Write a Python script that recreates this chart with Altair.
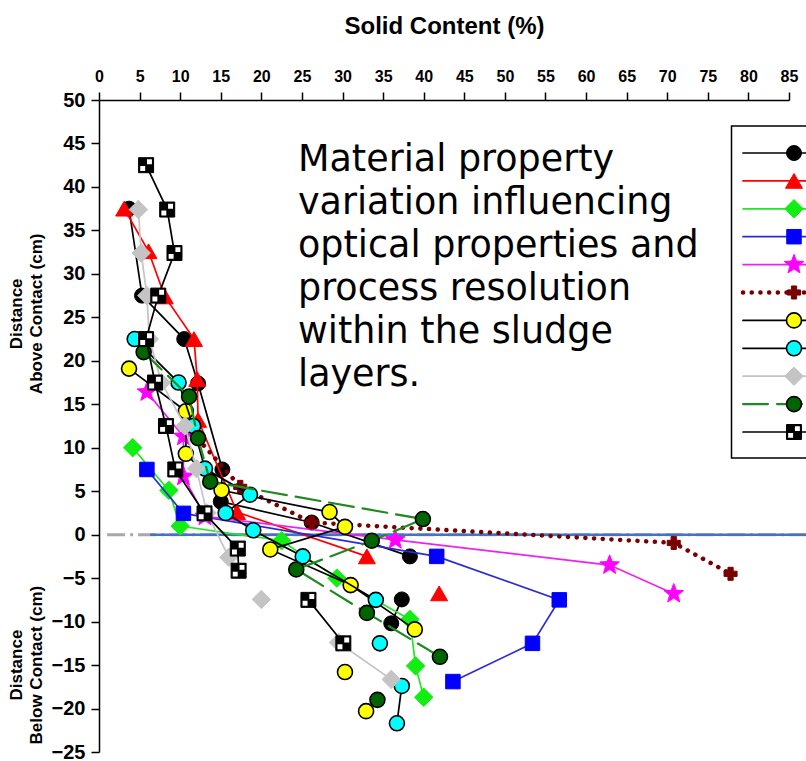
import altair as alt
import pandas as pd

# ---- axis ranges -------------------------------------------------------
X_DOMAIN = [0, 85]
Y_DOMAIN = [-25, 50]
PLOT_W, PLOT_H = 690, 652

# ---- profile readings (solid content %, distance from contact cm) ------
names = ["P1", "P2", "P3", "P4", "P5", "P6", "P7", "P8", "P9", "P10", "P11"]

p1_x = [3.7, 5.3, 10.5, 12.2, 15.2, 15.0, 26.2, 38.3, 37.3, 36.0]
p1_y = [37.5, 27.5, 22.5, 17.4, 7.5, 3.8, 1.4, -2.5, -7.45, -10.2]
p1_seg = [0, 0, 0, 0, 0, 0, 0, 0, 1, 1]

p2_x = [3.1, 6.1, 8.1, 11.7, 12.1, 12.2, 17.0, 33.0, 41.9]
p2_y = [37.5, 32.6, 27.4, 22.5, 17.9, 13.2, 2.6, -2.5, -6.75]
p2_seg = [0, 0, 0, 0, 0, 0, 0, 0, 1]

p3_x = [4.15, 8.6, 10.0, 22.5, 29.3, 38.3, 39.0, 40.0]
p3_y = [10.0, 5.1, 1.0, -0.7, -5.0, -9.75, -15.1, -18.7]
p3_seg = [0, 0, 0, 0, 0, 0, 0, 0]

p4_x = [5.9, 10.4, 41.6, 56.7, 53.4, 43.6]
p4_y = [7.5, 2.45, -2.5, -7.5, -12.5, -16.9]
p4_seg = [0, 0, 0, 0, 0, 0]

p5_x = [5.9, 10.4, 10.4, 13.05, 36.5, 62.9, 70.8]
p5_y = [16.4, 11.3, 6.7, 2.1, -0.6, -3.5, -6.8]
p5_seg = [0, 0, 0, 0, 0, 0, 0]

p6_x = [10.8, 17.4, 26.2, 70.8, 77.8]
p6_y = [12.5, 5.5, 1.4, -0.95, -4.5]
p6_seg = [0, 0, 0, 0, 0]

p7_x = [3.7, 10.7, 10.7, 15.1, 28.4, 30.3, 21.1, 31.0, 38.9, 30.3, 32.9]
p7_y = [19.1, 14.2, 9.3, 5.1, 2.6, 0.9, -1.7, -5.8, -10.9, -15.8, -20.3]
p7_seg = [0, 0, 0, 0, 0, 0, 0, 0, 0, 1, 2]

p8_x = [4.4, 9.8, 11.6, 13.05, 18.6, 15.6, 19.0, 25.1, 34.1, 34.6, 37.3, 36.7]
p8_y = [22.5, 17.5, 12.5, 7.6, 4.6, 2.5, 0.5, -2.5, -7.5, -12.5, -17.4, -21.7]
p8_seg = [0, 0, 0, 0, 0, 0, 0, 0, 0, 1, 2, 2]

p9_x = [4.85, 5.2, 5.9, 6.2, 7.7, 10.6, 12.0, 13.3, 16.0, 20.0, 29.5, 36.0]
p9_y = [37.4, 32.4, 27.5, 22.5, 17.5, 12.5, 7.6, 2.5, -2.6, -7.45, -12.4, -16.65]
p9_seg = [0, 0, 0, 0, 0, 0, 0, 0, 0, 1, 2, 2]

p10_x = [5.5, 11.1, 12.2, 13.7, 39.9, 33.6, 24.3, 33.0, 42.0, 34.3]
p10_y = [21.0, 15.9, 11.1, 6.1, 1.8, -0.7, -4.0, -9.0, -14.05, -19.0]
p10_seg = [0, 0, 0, 0, 0, 0, 0, 0, 0, 1]

p11_x = [5.8, 8.4, 9.3, 7.3, 5.8, 6.9, 8.25, 9.4, 13.0, 17.1, 17.2, 25.8, 30.1]
p11_y = [42.5, 37.4, 32.4, 27.5, 22.5, 17.5, 12.5, 7.5, 2.45, -1.6, -4.15, -7.5, -12.5]
p11_seg = [0, 0, 0, 0, 0, 0, 0, 0, 0, 0, 0, 1, 1]

xs_all = [p1_x, p2_x, p3_x, p4_x, p5_x, p6_x, p7_x, p8_x, p9_x, p10_x, p11_x]
ys_all = [p1_y, p2_y, p3_y, p4_y, p5_y, p6_y, p7_y, p8_y, p9_y, p10_y, p11_y]
segs_all = [p1_seg, p2_seg, p3_seg, p4_seg, p5_seg, p6_seg, p7_seg, p8_seg,
            p9_seg, p10_seg, p11_seg]

# contact level and its reference lines
contact_level = 0
ref_start = 1.0
contact_start = 6.3
line_end = 95

y_ticks = list(range(-25, 55, 5))
x_ticks = list(range(0, 90, 5))

side_titles = [("Distance", "Above Contact (cm)", 25.4),
               ("Distance", "Below Contact (cm)", -15.0)]

note_lines = ["Material property", "variation influencing", "optical properties and",
              "process resolution", "within the sludge", "layers."]

# ---- styles --------------------------------------------------------------
STAR = ("M0,-1L0.247,-0.34L0.951,-0.309L0.399,0.13L0.588,0.809L0,0.42"
        "L-0.588,0.809L-0.399,0.13L-0.951,-0.309L-0.247,-0.34Z")
CHECKS = "M0.12,-0.78H0.78V-0.12H0.12Z M-0.78,0.12H-0.12V0.78H-0.78Z"

styles = [
    dict(line="#000000", shape="circle", fill="#000000", stroke="#000000", size=225),
    dict(line="#ff0000", shape="triangle-up", fill="#ff0000", stroke="#ff0000", size=290),
    dict(line="#22e822", shape="diamond", fill="#11ee11", stroke="#11ee11", size=340),
    dict(line="#2b2bd6", shape="square", fill="#0000ff", stroke="#0000ff", size=210),
    dict(line="#ee22ee", shape=STAR, fill="#ff00ff", stroke="#ff00ff", size=420),
    dict(line="#7a0000", shape="cross", fill="#7a0000", stroke="#7a0000", size=170,
         dash=[0.1, 8.6], width=4.5),
    dict(line="#000000", shape="circle", fill="#ffff00", stroke="#000000", size=225, sw=1.6),
    dict(line="#000000", shape="circle", fill="#00ffff", stroke="#000000", size=225, sw=1.6),
    dict(line="#c4c4c4", shape="diamond", fill="#c4c4c4", stroke="#c4c4c4", size=340),
    dict(line="#1f8a1f", shape="circle", fill="#006400", stroke="#000000", size=225, sw=1.6,
         dash=[25, 9], width=2.2),
    dict(line="#000000", shape="square", fill="#000000", stroke="#000000", size=225,
         overlay=CHECKS),
]

FONT = "Liberation Sans"
xs = alt.Scale(domain=X_DOMAIN, nice=False, zero=False)
ys = alt.Scale(domain=Y_DOMAIN, nice=False, zero=False)

AX = alt.Axis(
    orient="top", values=x_ticks, tickSize=8, tickWidth=1.5, tickColor="black",
    domainColor="black", domainWidth=1.5, labelFont=FONT, labelFontSize=16,
    labelFontWeight="bold", labelColor="black", labelPadding=8, labelFlush=False,
    labelOverlap=False, grid=False, title="Solid Content (%)", titleFont=FONT,
    titleFontSize=24, titleFontWeight="bold", titleColor="black", titlePadding=30)
AY = alt.Axis(
    orient="left", values=y_ticks, tickSize=8, tickWidth=1.5, tickColor="black",
    domainColor="black", domainWidth=1.5, labelFont=FONT, labelFontSize=20,
    labelFontWeight="bold", labelColor="black", labelPadding=6, labelFlush=False,
    labelOverlap=False, grid=False, title=None)

X = alt.X("x:Q", scale=xs, axis=AX)
Y = alt.Y("y:Q", scale=ys, axis=AY)


def line_mark(st):
    kw = dict(color=st["line"], strokeWidth=st.get("width", 1.7), strokeCap="round")
    if "dash" in st:
        kw["strokeDash"] = st["dash"]
    return kw


def point_mark(st):
    return dict(shape=st["shape"], filled=True, fill=st["fill"], stroke=st["stroke"],
                strokeWidth=st.get("sw", 1.0), size=st["size"], opacity=1)


def overlay_mark(st):
    return dict(shape=st["overlay"], filled=True, fill="white", strokeWidth=0,
                size=st["size"], opacity=1)


layers = []

# contact reference lines
ref_df = pd.DataFrame({"x": [ref_start, line_end], "y": [contact_level] * 2})
blue_df = pd.DataFrame({"x": [contact_start, line_end], "y": [contact_level] * 2})
layers.append(alt.Chart(ref_df).mark_line(color="#a8a8a8", strokeWidth=3,
                                          strokeDash=[18, 5, 3, 5]).encode(x=X, y=Y))
layers.append(alt.Chart(blue_df).mark_line(color="#4472c4", strokeWidth=2.5).encode(x=X, y=Y))

# profiles: line first, then its markers
for name, xv, yv, sg, st in zip(names, xs_all, ys_all, segs_all, styles):
    df = pd.DataFrame({"x": xv, "y": yv, "seg": sg, "i": list(range(len(xv)))})
    layers.append(alt.Chart(df).mark_line(**line_mark(st))
                  .encode(x=X, y=Y, detail="seg:N", order="i:Q"))
    layers.append(alt.Chart(df).mark_point(**point_mark(st)).encode(x=X, y=Y))
    if "overlay" in st:
        layers.append(alt.Chart(df).mark_point(**overlay_mark(st)).encode(x=X, y=Y))

# ---- key box (its labels fall beyond the right edge) -------------------
KEY_LEFT, KEY_TOP, KEY_BOTTOM = 632.5, 26, 358
ROW0, ROW_STEP = 53, 27.9
LINE_X0, LINE_X1, MARK_X = 644, 760, 695

one = pd.DataFrame({"a": [0]})
layers.append(
    alt.Chart(one).mark_rect(fill="white", stroke="black", strokeWidth=1.5)
    .encode(x=alt.value(KEY_LEFT), x2=alt.value(760), y=alt.value(KEY_TOP),
            y2=alt.value(KEY_BOTTOM))
)
for k, st in enumerate(styles):
    ry = ROW0 + k * ROW_STEP
    layers.append(alt.Chart(one).mark_rule(**line_mark(st))
                  .encode(x=alt.value(LINE_X0), x2=alt.value(LINE_X1), y=alt.value(ry)))
    layers.append(alt.Chart(one).mark_point(**point_mark(st))
                  .encode(x=alt.value(MARK_X), y=alt.value(ry)))
    if "overlay" in st:
        layers.append(alt.Chart(one).mark_point(**overlay_mark(st))
                      .encode(x=alt.value(MARK_X), y=alt.value(ry)))

# ---- side titles ---------------------------------------------------------
side_df = pd.DataFrame({
    "first": [t[0] for t in side_titles],
    "second": [t[1] for t in side_titles],
    "y": [t[2] for t in side_titles],
})
side_style = dict(angle=270, align="center", baseline="middle", font=FONT,
                  fontSize=17, fontWeight="bold", color="black")
layers.append(alt.Chart(side_df).mark_text(**side_style)
              .encode(x=alt.value(-82), y=Y, text="first:N"))
layers.append(alt.Chart(side_df).mark_text(**side_style)
              .encode(x=alt.value(-62), y=Y, text="second:N"))

# ---- note ----------------------------------------------------------------
layers.append(
    alt.Chart(one).mark_text(align="left", baseline="alphabetic", font="DejaVu Sans",
                             fontSize=36.5, lineHeight=43, color="black")
    .encode(x=alt.value(199), y=alt.value(71), text=alt.value(note_lines))
)

chart = alt.layer(*layers).properties(
    width=PLOT_W, height=PLOT_H,
    autosize=alt.AutoSizeParams(type="none"),
    padding={"left": 99, "top": 100, "right": 17, "bottom": 9},
).configure_view(stroke=None)

chart.save("out.html", embed_options={"renderer": "svg", "actions": False})
